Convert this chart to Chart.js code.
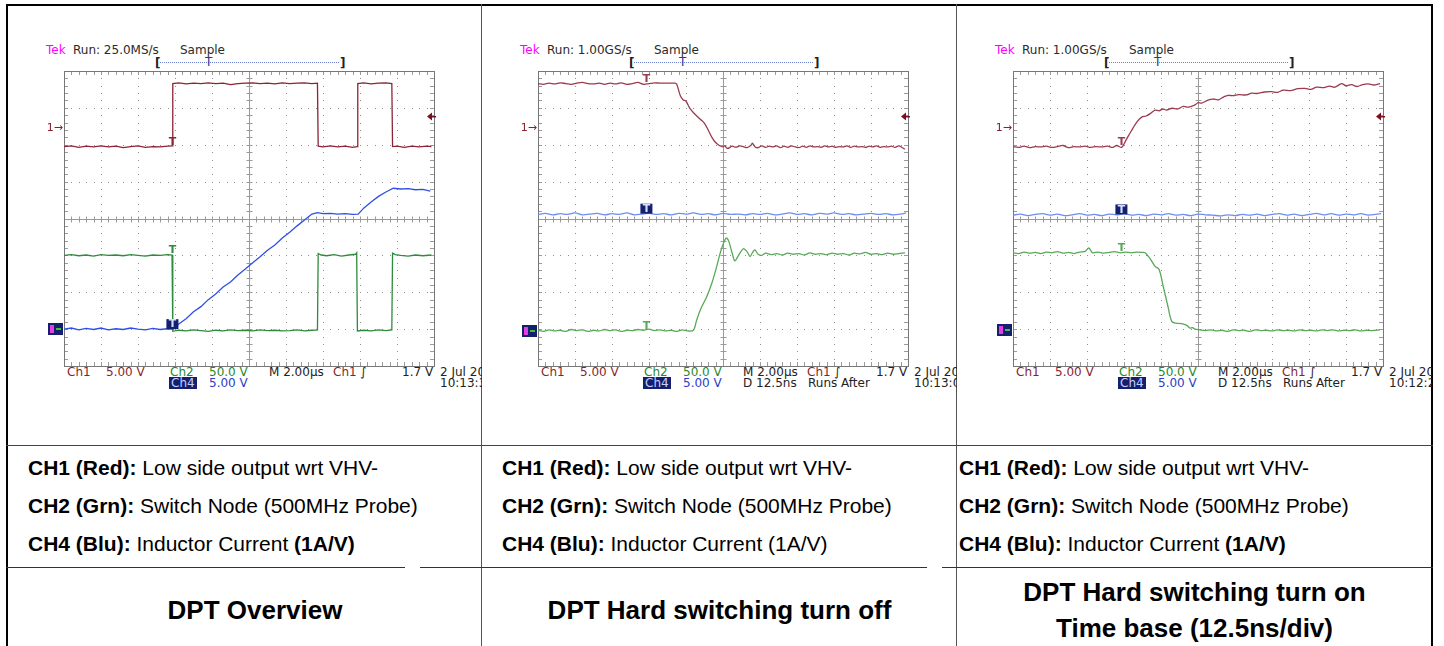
<!DOCTYPE html>
<html>
<head>
<meta charset="utf-8">
<script src="https://cdn.jsdelivr.net/npm/chart.js@4/dist/chart.umd.min.js"></script>
<style>
  body { margin: 0; width: 1444px; height: 646px; background: #fff; position: relative; overflow: hidden; font-family: "Liberation Sans", Arial, sans-serif; }
  .ln { position: absolute; }
  .cell { position: absolute; top: 0; height: 646px; overflow: hidden; }
  .scope { position: absolute; }
  .st { position: absolute; font-family: "DejaVu Sans", sans-serif; font-size: 12px; line-height: 12px; white-space: nowrap; color: #2a2a2a; }
  .leg { position: absolute; font-size: 21px; line-height: 24px; white-space: nowrap; color: #000; }
  .ttl { position: absolute; font-size: 26px; line-height: 36px; font-weight: bold; text-align: center; color: #000; }
</style>
</head>
<body>
<script>
// traces: [time in divisions, level in divisions from screen centre]
const overviewCh1 = [
  [0,1.95],[0.2,1.97],[0.4,1.93],[0.6,1.96],[0.8,1.94],[1.0,1.97],[1.2,1.94],[1.4,1.96],[1.6,1.92],[1.8,1.95],
  [2.0,1.97],[2.2,1.93],[2.4,1.95],[2.6,1.94],[2.8,1.96],[2.92,1.97],
  [2.94,3.66],[3.1,3.68],[3.3,3.65],[3.5,3.67],[3.7,3.66],[3.9,3.68],[4.1,3.66],[4.3,3.67],[4.5,3.63],[4.7,3.66],
  [4.9,3.67],[5.1,3.68],[5.3,3.66],[5.5,3.67],[5.7,3.65],[5.9,3.68],[6.1,3.66],[6.3,3.67],[6.5,3.68],[6.7,3.66],[6.85,3.67],
  [6.87,1.96],[7.0,1.94],[7.2,1.97],[7.4,1.94],[7.6,1.96],[7.8,1.93],[7.92,1.95],
  [7.94,3.66],[8.1,3.68],[8.3,3.65],[8.5,3.67],[8.7,3.68],[8.86,3.66],
  [8.88,1.95],[9.0,1.96],[9.2,1.93],[9.4,1.96],[9.6,1.94],[9.8,1.96],[9.93,1.95]
];
const overviewCh2 = [
  [0,-1.0],[0.2,-0.98],[0.4,-1.01],[0.6,-0.99],[0.8,-1.02],[1.0,-0.98],[1.2,-1.0],[1.4,-0.99],[1.6,-1.01],[1.8,-0.98],
  [2.0,-1.0],[2.2,-1.02],[2.4,-0.99],[2.6,-1.0],[2.8,-0.98],[2.92,-0.99],
  [2.94,-3.06],[3.1,-3.03],[3.3,-3.05],[3.5,-3.02],[3.7,-3.04],[3.9,-3.06],[4.1,-3.03],[4.3,-3.05],[4.5,-3.02],[4.7,-3.04],
  [4.9,-3.03],[5.1,-3.05],[5.3,-3.02],[5.5,-3.04],[5.7,-3.03],[5.9,-3.05],[6.1,-3.04],[6.3,-3.02],[6.5,-3.05],[6.7,-3.03],[6.85,-3.02],
  [6.87,-0.95],[6.95,-0.99],[7.1,-1.01],[7.3,-0.98],[7.5,-1.02],[7.7,-0.99],[7.88,-0.97],[7.91,-0.93],
  [7.93,-3.05],[8.1,-3.03],[8.3,-3.05],[8.5,-3.02],[8.7,-3.04],[8.86,-3.02],
  [8.88,-0.94],[8.95,-0.98],[9.1,-1.0],[9.3,-1.02],[9.5,-0.99],[9.7,-1.01],[9.93,-0.99]
];
const overviewCh4 = [
  [0,-3.0],[0.2,-2.97],[0.4,-3.02],[0.6,-2.98],[0.8,-3.01],[1.0,-2.97],[1.2,-3.02],[1.4,-2.99],[1.6,-3.01],[1.8,-2.97],
  [2.0,-3.0],[2.2,-3.02],[2.4,-2.98],[2.6,-3.01],[2.8,-2.99],[2.95,-3.0],
  [3.1,-2.86],[3.3,-2.72],[3.5,-2.53],[3.7,-2.39],[3.9,-2.2],[4.1,-2.05],[4.3,-1.86],[4.5,-1.72],[4.7,-1.53],[4.9,-1.37],
  [5.1,-1.2],[5.3,-1.04],[5.5,-0.86],[5.7,-0.72],[5.9,-0.53],[6.1,-0.37],[6.3,-0.2],[6.5,-0.04],[6.7,0.12],
  [6.85,0.16],[7.0,0.13],[7.2,0.14],[7.4,0.12],[7.6,0.13],[7.8,0.11],[7.95,0.12],
  [8.1,0.28],[8.3,0.45],[8.5,0.6],[8.7,0.72],[8.9,0.82],[9.1,0.8],[9.3,0.81],[9.5,0.78],[9.7,0.79],[9.9,0.74]
];

const turnOffCh1 = [
  [0,3.66],[0.15,3.64],[0.3,3.67],[0.45,3.65],[0.6,3.68],[0.75,3.66],[0.9,3.64],[1.05,3.67],[1.2,3.69],[1.35,3.66],
  [1.5,3.65],[1.65,3.67],[1.8,3.64],[1.95,3.67],[2.1,3.65],[2.25,3.68],[2.4,3.64],[2.55,3.66],[2.7,3.69],[2.85,3.64],
  [3.0,3.66],[3.15,3.68],[3.3,3.67],[3.5,3.67],[3.7,3.67],[3.75,3.64],
  [3.85,3.32],[3.92,3.22],[4.0,3.18],[4.11,2.98],[4.25,2.82],[4.4,2.68],[4.5,2.58],[4.6,2.4],[4.7,2.2],[4.8,2.06],
  [4.9,1.98],[5.0,1.94],[5.05,1.97],[5.12,1.9],[5.25,1.96],[5.35,1.93],[5.45,1.97],[5.55,1.95],[5.65,1.92],[5.75,1.98],
  [5.8,2.04],[5.87,1.94],[5.95,1.92],[6.05,1.97],[6.15,1.93],[6.25,1.96],[6.35,1.94],[6.45,1.97],[6.55,1.92],[6.65,1.96],
  [6.75,1.93],[6.85,1.97],[6.95,1.94],[7.05,1.92],[7.15,1.96],[7.25,1.93],[7.35,1.97],[7.45,1.94],[7.55,1.95],[7.65,1.93],
  [7.75,1.97],[7.85,1.94],[7.95,1.96],[8.05,1.93],[8.15,1.95],[8.25,1.94],[8.35,1.97],[8.45,1.93],[8.55,1.96],[8.65,1.94],
  [8.75,1.95],[8.85,1.93],[8.95,1.96],[9.05,1.94],[9.15,1.97],[9.25,1.93],[9.35,1.95],[9.45,1.94],[9.55,1.96],[9.65,1.93],
  [9.75,1.97],[9.85,1.92],[9.92,1.88]
];
const turnOffCh2 = [
  [0,-3.03],[0.15,-3.06],[0.3,-3.02],[0.45,-3.05],[0.6,-3.03],[0.75,-3.06],[0.9,-3.01],[1.05,-3.04],[1.2,-3.02],[1.35,-3.06],
  [1.5,-3.03],[1.65,-3.05],[1.8,-3.01],[1.95,-3.04],[2.1,-3.02],[2.25,-3.06],[2.4,-3.03],[2.55,-3.04],[2.7,-3.01],[2.85,-3.03],
  [3.0,-3.0],[3.15,-3.04],[3.3,-3.02],[3.45,-3.05],[3.6,-3.03],[3.75,-3.06],[3.9,-3.02],[4.05,-3.05],[4.2,-3.03],
  [4.29,-2.75],[4.4,-2.45],[4.56,-2.12],[4.7,-1.75],[4.83,-1.3],[4.95,-0.85],[5.08,-0.53],[5.15,-0.6],[5.25,-0.95],
  [5.32,-1.15],[5.42,-1.0],[5.55,-0.82],[5.65,-0.9],[5.73,-1.03],[5.8,-0.92],[5.86,-0.85],[5.95,-0.97],[6.05,-1.0],
  [6.15,-0.94],[6.3,-0.98],[6.45,-0.95],[6.6,-0.99],[6.75,-0.94],[6.9,-0.97],[7.05,-0.95],[7.2,-0.99],[7.35,-0.93],
  [7.5,-0.97],[7.65,-0.95],[7.8,-0.98],[7.95,-0.94],[8.1,-0.97],[8.25,-0.95],[8.4,-0.99],[8.55,-0.94],[8.7,-0.96],
  [8.85,-0.92],[9.0,-0.97],[9.15,-0.95],[9.3,-0.98],[9.45,-0.94],[9.6,-0.97],[9.75,-0.95],[9.92,-0.93]
];
const turnOffCh4 = [
  [0,0.11],[0.2,0.14],[0.4,0.1],[0.6,0.13],[0.8,0.11],[1.0,0.15],[1.2,0.1],[1.4,0.12],[1.6,0.14],[1.8,0.1],
  [2.0,0.13],[2.2,0.11],[2.4,0.15],[2.6,0.1],[2.8,0.12],[3.0,0.14],[3.2,0.11],[3.4,0.13],[3.6,0.1],[3.8,0.14],
  [4.0,0.12],[4.2,0.15],[4.4,0.11],[4.6,0.13],[4.8,0.1],[5.0,0.14],[5.2,0.11],[5.4,0.12],[5.6,0.1],[5.8,0.13],
  [6.0,0.11],[6.2,0.14],[6.4,0.1],[6.6,0.12],[6.8,0.15],[7.0,0.11],[7.2,0.13],[7.4,0.1],[7.6,0.14],[7.8,0.12],
  [8.0,0.15],[8.2,0.11],[8.4,0.13],[8.6,0.1],[8.8,0.12],[9.0,0.14],[9.2,0.11],[9.4,0.13],[9.6,0.1],[9.8,0.12],[9.95,0.15]
];

const turnOnCh1 = [
  [0,1.95],[0.15,1.93],[0.3,1.96],[0.45,1.92],[0.6,1.95],[0.75,1.94],[0.9,1.96],[1.05,1.93],[1.2,1.95],[1.35,1.98],
  [1.5,1.92],[1.65,1.95],[1.8,1.94],[1.95,1.96],[2.1,1.93],[2.25,1.95],[2.4,1.94],[2.55,1.96],[2.7,1.93],[2.8,1.98],[2.94,1.93],
  [3.05,2.12],[3.2,2.38],[3.35,2.62],[3.48,2.75],[3.6,2.78],[3.72,2.85],[3.84,2.94],[3.95,2.92],[4.05,2.97],[4.15,2.94],
  [4.3,2.99],[4.45,2.97],[4.6,3.04],[4.75,3.02],[4.92,3.08],[5.0,3.14],[5.1,3.13],[5.27,3.21],[5.4,3.24],[5.55,3.22],
  [5.7,3.3],[5.81,3.34],[5.95,3.33],[6.1,3.36],[6.3,3.35],[6.45,3.4],[6.6,3.39],[6.8,3.43],[6.99,3.44],[7.15,3.42],
  [7.3,3.48],[7.5,3.47],[7.7,3.52],[7.89,3.53],[8.05,3.5],[8.2,3.56],[8.4,3.55],[8.55,3.59],[8.7,3.56],[8.88,3.66],
  [9.0,3.6],[9.15,3.63],[9.3,3.58],[9.45,3.63],[9.6,3.65],[9.75,3.62],[9.92,3.66]
];
const turnOnCh2 = [
  [0,-0.93],[0.15,-0.95],[0.3,-0.91],[0.45,-0.94],[0.6,-0.92],[0.75,-0.95],[0.9,-0.91],[1.05,-0.93],[1.2,-0.9],[1.35,-0.94],
  [1.5,-0.92],[1.65,-0.95],[1.8,-0.91],[1.95,-0.89],[2.05,-0.8],[2.15,-0.93],[2.3,-0.91],[2.45,-0.94],[2.6,-0.92],[2.75,-0.9],
  [2.9,-0.93],[3.05,-0.91],[3.2,-0.93],[3.35,-0.91],[3.5,-0.92],[3.57,-0.93],
  [3.7,-1.08],[3.84,-1.3],[3.95,-1.38],[4.06,-1.84],[4.18,-2.35],[4.29,-2.79],[4.4,-2.84],[4.55,-2.85],[4.7,-2.9],
  [4.78,-2.97],[4.85,-2.96],[4.92,-3.0],[5.05,-3.02],[5.2,-3.04],[5.35,-3.02],[5.5,-3.05],[5.65,-3.03],[5.8,-3.06],
  [5.95,-3.02],[6.1,-3.04],[6.25,-3.03],[6.4,-3.06],[6.55,-3.02],[6.7,-3.04],[6.85,-3.03],[7.0,-3.05],[7.15,-3.02],
  [7.3,-3.04],[7.45,-3.03],[7.6,-3.05],[7.75,-3.02],[7.9,-3.04],[8.05,-3.03],[8.2,-3.05],[8.35,-3.02],[8.5,-3.04],
  [8.65,-3.02],[8.8,-3.05],[8.95,-3.03],[9.1,-3.04],[9.25,-3.02],[9.4,-3.05],[9.55,-3.03],[9.7,-3.04],[9.92,-3.02]
];
const turnOnCh4 = [
  [0,0.09],[0.2,0.12],[0.4,0.08],[0.6,0.11],[0.8,0.13],[1.0,0.09],[1.2,0.12],[1.4,0.08],[1.6,0.1],[1.8,0.13],
  [2.0,0.09],[2.2,0.11],[2.4,0.08],[2.6,0.12],[2.8,0.1],[3.0,0.13],[3.2,0.09],[3.4,0.11],[3.6,0.08],[3.8,0.12],
  [4.0,0.1],[4.2,0.13],[4.4,0.09],[4.6,0.11],[4.8,0.08],[5.0,0.12],[5.2,0.1],[5.4,0.09],[5.6,0.07],[5.8,0.1],
  [6.0,0.08],[6.2,0.11],[6.4,0.09],[6.6,0.12],[6.8,0.08],[7.0,0.11],[7.2,0.13],[7.4,0.09],[7.6,0.12],[7.8,0.08],
  [8.0,0.11],[8.2,0.14],[8.4,0.1],[8.6,0.13],[8.8,0.09],[9.0,0.12],[9.2,0.1],[9.4,0.13],[9.6,0.09],[9.8,0.11],[9.95,0.13]
];

const sampleRates = ["25.0MS/s", "1.00GS/s", "1.00GS/s"];
const delayLabels = ["", "D 12.5ns", "D 12.5ns"];
const runLabels = ["", "Runs After", "Runs After"];
const clockTimes = ["10:13:3", "10:13:0", "10:12:2"];
const channelNames = ["CH1 (Red):", "CH2 (Grn):", "CH4 (Blu):"];
const channelDescs = ["Low side output wrt VHV-", "Switch Node (500MHz Probe)", "Inductor Current"];
const probeScale = "(1A/V)";
const probeScaleBold = [true, false, true];
const titles = [["DPT Overview"], ["DPT Hard switching turn off"], ["DPT Hard switching turn on", "Time base (12.5ns/div)"]];
// channel reference levels (divisions): ch1 ground, trigger level, ch2/ch4 ground, trigger time
const ch1Ground = 2.45;
const trigLevel = 2.79;
const ch24Ground = [-3.0, -3.04, -3.02];
const trigTime = 2.93;

const cells = [
  { left: 6, width: 476, grid: 64, legend: 28, titleL: 28, titleW: 454 },
  { left: 482, width: 475, grid: 538, legend: 502, titleL: 482, titleW: 475 },
  { left: 957, width: 475, grid: 1013, legend: 959, titleL: 957, titleW: 475 }
];
const traceSets = [
  { ch1: overviewCh1, ch2: overviewCh2, ch4: overviewCh4, tension: 0,
    colors: ["#8b2434", "#2f8a3d", "#2f4fe6"], trig: [1.95, -0.99, -3.0] },
  { ch1: turnOffCh1, ch2: turnOffCh2, ch4: turnOffCh4, tension: 0.3,
    colors: ["#9c3a50", "#58a858", "#6f8cf2"], trig: [3.65, -3.03, 0.13] },
  { ch1: turnOnCh1, ch2: turnOnCh2, ch4: turnOnCh4, tension: 0.3,
    colors: ["#9c3a50", "#58a858", "#6f8cf2"], trig: [1.94, -0.92, 0.11] }
];

const RED = "#8b1f2e", GRN = "#1f8a2c", BLU = "#2b3dc4";

// table rules
function rule(x, y, w, h, c) {
  const d = document.createElement("div");
  d.className = "ln";
  Object.assign(d.style, { left: x + "px", top: y + "px", width: w + "px", height: h + "px", background: c });
  document.body.appendChild(d);
}
rule(6, 4, 1427, 2, "#000");
rule(6, 4, 2, 642, "#000");
rule(1431, 4, 2, 642, "#000");
rule(481, 4, 1, 642, "#555");
rule(956, 4, 1, 642, "#555");
rule(6, 445, 1427, 1, "#444");
rule(6, 567, 399, 1, "#333");
rule(420, 567, 507, 1, "#333");
rule(942, 567, 491, 1, "#333");

const graticule = {
  id: "graticule",
  beforeDatasetsDraw(chart) {
    const { ctx, chartArea: a, scales: { x, y } } = chart;
    ctx.save();
    ctx.fillStyle = "#8f8f8f";
    for (let i = 1; i < 10; i++) {
      if (i === 5) continue;
      const px = Math.round(x.getPixelForValue(i));
      for (let k = 1; k < 40; k++) ctx.fillRect(px, Math.round(y.getPixelForValue(-4 + k / 5)), 1, 1);
    }
    for (let j = -3; j <= 3; j++) {
      if (j === 0) continue;
      const py = Math.round(y.getPixelForValue(j));
      for (let k = 1; k < 50; k++) ctx.fillRect(Math.round(x.getPixelForValue(k / 5)), py, 1, 1);
    }
    const cx = Math.round(x.getPixelForValue(5)) + 0.5;
    const cy = Math.round(y.getPixelForValue(0)) + 0.5;
    ctx.strokeStyle = "#9a9a9a";
    ctx.lineWidth = 1;
    ctx.beginPath();
    ctx.moveTo(cx, a.top); ctx.lineTo(cx, a.bottom);
    ctx.moveTo(a.left, cy); ctx.lineTo(a.right, cy);
    for (let k = 1; k < 40; k++) {
      const py = Math.round(y.getPixelForValue(-4 + k / 5)) + 0.5;
      ctx.moveTo(cx - 3, py); ctx.lineTo(cx + 3, py);
      ctx.moveTo(a.left, py); ctx.lineTo(a.left + 4, py);
      ctx.moveTo(a.right, py); ctx.lineTo(a.right - 4, py);
    }
    for (let k = 1; k < 50; k++) {
      const px = Math.round(x.getPixelForValue(k / 5)) + 0.5;
      ctx.moveTo(px, cy - 3); ctx.lineTo(px, cy + 3);
      ctx.moveTo(px, a.top); ctx.lineTo(px, a.top + 4);
      ctx.moveTo(px, a.bottom); ctx.lineTo(px, a.bottom - 4);
    }
    ctx.stroke();
    ctx.strokeStyle = "#777";
    ctx.strokeRect(Math.round(a.left) + 0.5, Math.round(a.top) + 0.5, Math.round(a.right - a.left), Math.round(a.bottom - a.top));
    ctx.restore();
  },
  afterDatasetsDraw(chart, args, opts) {
    const { ctx, chartArea: a, scales: { x, y } } = chart;
    ctx.save();
    ctx.font = "11px 'DejaVu Sans'";
    // ch1 ground marker
    const g1 = y.getPixelForValue(ch1Ground);
    ctx.fillStyle = RED;
    ctx.textAlign = "right";
    ctx.textBaseline = "middle";
    ctx.fillText("1\u2192", a.left - 1, g1);
    // trigger level arrow on the right edge
    const tl = Math.round(y.getPixelForValue(trigLevel)) + 0.5;
    ctx.fillStyle = "#7a1020";
    ctx.beginPath();
    ctx.moveTo(a.right - 7, tl); ctx.lineTo(a.right - 2, tl - 4); ctx.lineTo(a.right - 2, tl + 4); ctx.closePath();
    ctx.fill();
    ctx.fillRect(a.right - 3, tl - 0.5, 5, 1.5);
    // ch2/ch4 ground box
    const g2 = Math.round(y.getPixelForValue(opts.gnd));
    ctx.fillStyle = "#14206e";
    ctx.fillRect(a.left - 16, g2 - 6, 15, 12);
    ctx.fillStyle = "#e040e0";
    ctx.fillRect(a.left - 14, g2 - 4, 4, 8);
    ctx.fillStyle = "#40c040";
    ctx.fillRect(a.left - 8, g2 - 1, 5, 2);
    // trigger T markers
    const tx = x.getPixelForValue(trigTime);
    ctx.textAlign = "center";
    ctx.textBaseline = "bottom";
    ctx.font = "bold 11px 'DejaVu Sans'";
    ctx.fillStyle = opts.colors[0];
    ctx.fillText("T", tx, y.getPixelForValue(opts.trig[0]) + 1);
    ctx.fillStyle = opts.colors[1];
    ctx.fillText("T", tx, y.getPixelForValue(opts.trig[1]) + 1);
    const by = y.getPixelForValue(opts.trig[2]);
    ctx.fillStyle = "#14206e";
    ctx.fillRect(tx - 6, by - 10, 12, 10);
    ctx.fillStyle = "#d8deff";
    ctx.fillText("T", tx, by + 1);
    ctx.restore();
  }
};

function txt(parent, cell, x, y, text, style) {
  const d = document.createElement("div");
  d.className = "st";
  d.textContent = text;
  d.style.left = (x - cell.left) + "px";
  d.style.top = y + "px";
  Object.assign(d.style, style || {});
  parent.appendChild(d);
  return d;
}

cells.forEach((cell, i) => {
  const el = document.createElement("div");
  el.className = "cell";
  el.style.left = cell.left + "px";
  el.style.width = cell.width + "px";
  document.body.appendChild(el);
  const g = cell.grid;

  // header
  txt(el, cell, g - 18, 44, "Tek", { color: "#ff00ff" });
  txt(el, cell, g + 9, 44, "Run: " + sampleRates[i]);
  txt(el, cell, g + 116, 44, "Sample");
  txt(el, cell, g + 91, 57, "[", { color: "#222", fontWeight: "bold" });
  txt(el, cell, g + 276, 57, "]", { color: "#222", fontWeight: "bold" });
  const dots = document.createElement("div");
  Object.assign(dots.style, { position: "absolute", left: (g + 96 - cell.left) + "px", top: "62px", width: "179px", height: "0", borderTop: "1px dotted #6d7fd0" });
  el.appendChild(dots);
  txt(el, cell, g + 141, 56, "T", { color: "#2a3a9a" });

  // footer readouts
  txt(el, cell, g + 3, 366, "Ch1", { color: RED });
  txt(el, cell, g + 42, 366, "5.00 V", { color: RED });
  txt(el, cell, g + 106, 366, "Ch2", { color: GRN });
  txt(el, cell, g + 145, 366, "50.0 V", { color: GRN });
  txt(el, cell, g + 205, 366, "M 2.00\u00b5s", { color: "#222" });
  txt(el, cell, g + 269, 366, "Ch1", { color: RED });
  txt(el, cell, g + 296, 366, "\u222b", { color: "#222" });
  txt(el, cell, g + 338, 366, "1.7 V", { color: "#222" });
  txt(el, cell, g + 376, 366, "2 Jul 20", { color: "#222" });
  txt(el, cell, g + 105, 377, "Ch4", { color: "#c8d0ff", background: "#14206e", padding: "0 2px" });
  txt(el, cell, g + 145, 377, "5.00 V", { color: BLU });
  if (delayLabels[i]) txt(el, cell, g + 205, 377, delayLabels[i], { color: "#222" });
  if (runLabels[i]) txt(el, cell, g + 270, 377, runLabels[i], { color: "#222" });
  txt(el, cell, g + 376, 377, clockTimes[i], { color: "#222" });

  // channel legend
  for (let r = 0; r < 3; r++) {
    const d = document.createElement("div");
    d.className = "leg";
    d.style.left = (cell.legend - cell.left) + "px";
    d.style.top = (456 + r * 38) + "px";
    const b = document.createElement("b");
    b.textContent = channelNames[r];
    d.appendChild(b);
    d.appendChild(document.createTextNode(" " + channelDescs[r]));
    if (r === 2) {
      const s = document.createElement(probeScaleBold[i] ? "b" : "span");
      s.textContent = " " + probeScale;
      d.appendChild(s);
    }
    el.appendChild(d);
  }

  // title
  const t = document.createElement("div");
  t.className = "ttl";
  t.style.left = (cell.titleL - cell.left) + "px";
  t.style.width = cell.titleW + "px";
  t.style.top = (titles[i].length > 1 ? 574 : 592) + "px";
  t.innerHTML = titles[i].join("<br>");
  el.appendChild(t);

  // scope trace chart
  const box = document.createElement("div");
  box.className = "scope";
  Object.assign(box.style, { left: (g - 20 - cell.left) + "px", top: "51px", width: "410px", height: "335px" });
  const cv = document.createElement("canvas");
  box.appendChild(cv);
  el.appendChild(box);

  const set = traceSets[i];
  new Chart(cv, {
    type: "line",
    data: {
      datasets: [
        { label: "CH1", data: set.ch1.map(p => ({ x: p[0], y: p[1] })), borderColor: set.colors[0] },
        { label: "CH4", data: set.ch4.map(p => ({ x: p[0], y: p[1] })), borderColor: set.colors[2] },
        { label: "CH2", data: set.ch2.map(p => ({ x: p[0], y: p[1] })), borderColor: set.colors[1] }
      ]
    },
    options: {
      responsive: true,
      maintainAspectRatio: false,
      animation: false,
      layout: { padding: 20 },
      elements: { point: { radius: 0 }, line: { borderWidth: 1.3, tension: set.tension } },
      scales: {
        x: { type: "linear", min: 0, max: 10, display: false },
        y: { type: "linear", min: -4, max: 4, display: false }
      },
      plugins: {
        legend: { display: false },
        tooltip: { enabled: false },
        graticule: { gnd: ch24Ground[i], colors: set.colors, trig: set.trig }
      }
    },
    plugins: [graticule]
  });
});
</script>
</body>
</html>
